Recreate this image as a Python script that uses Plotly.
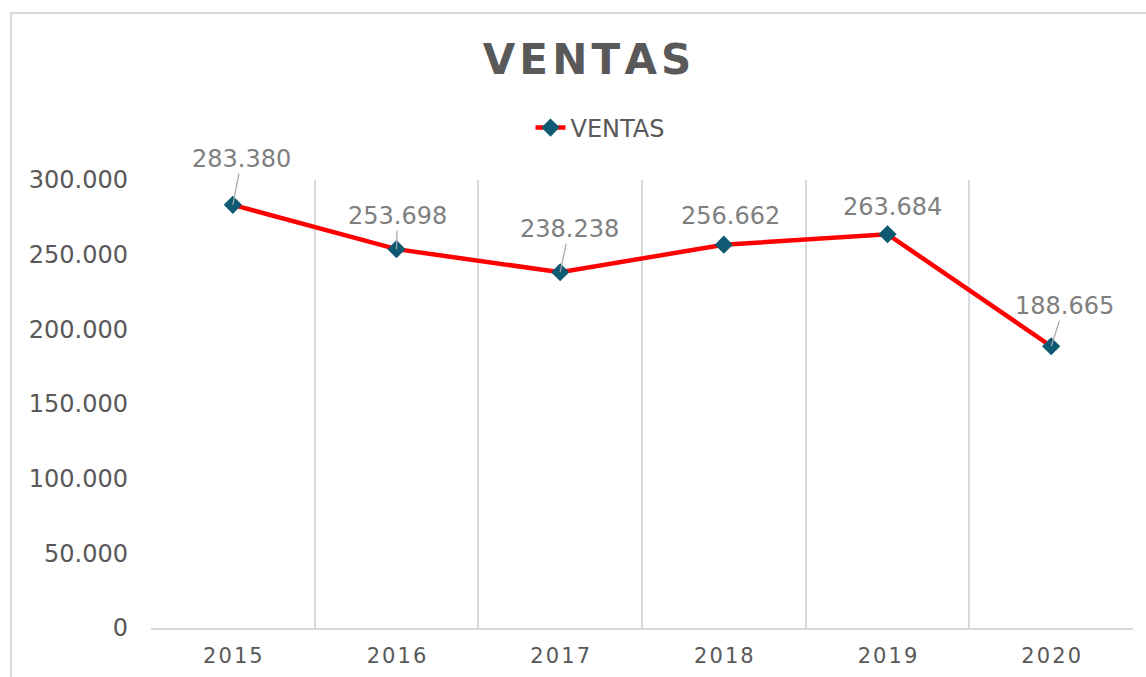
import plotly.graph_objects as go

years = ["2015", "2016", "2017", "2018", "2019", "2020"]
ventas = [283380, 253698, 238238, 256662, 263684, 188665]
y_ticks = [0, 50000, 100000, 150000, 200000, 250000, 300000]
# label offsets (pixels) for data labels
label_dx = [9, 1, 9, 7, 5, 13]
label_dy = [-46, -33, -43, -29, -27, -40]
leader = [True, True, True, False, False, True]

FONT = "DejaVu Sans"
HS = "\u200a"

def fmt(v):
    return f"{v:,}".replace(",", ".")

fig = go.Figure()
fig.add_trace(go.Scatter(
    x=years, y=ventas, mode="lines+markers", name="VENTAS",
    line=dict(color="#ff0000", width=4.5),
    marker=dict(symbol="diamond", size=14, color="#0f5a72"),
))

for i, (v, dx, dy, ld) in enumerate(zip(ventas, label_dx, label_dy, leader)):
    fig.add_annotation(
        x=i, y=v, text=fmt(v), showarrow=True, arrowhead=0,
        arrowwidth=1.2, arrowcolor="#a6a6a6" if ld else "rgba(0,0,0,0)",
        ax=dx, ay=dy, standoff=0, borderpad=0,
        font=dict(family=FONT, size=24, color="#7f7f7f"),
    )

fig.add_shape(type="rect", xref="paper", yref="paper",
              x0=-0.1426, x1=1.03, y0=-0.16, y1=1.3728,
              line=dict(color="#d9d9d9", width=2), fillcolor="rgba(0,0,0,0)",
              layer="below")

fig.update_layout(
    width=1146, height=677,
    margin=dict(l=151, r=13, t=180, b=49),
    paper_bgcolor="white", plot_bgcolor="white",
    separators=",.",
    title=dict(text=HS.join("VENTAS"), x=587/1146, xanchor="center",
               y=1-59/677, yanchor="middle", yref="container", xref="container",
               font=dict(family=FONT, size=42, color="#595959", weight="bold")),
    showlegend=True,
    legend=dict(orientation="h", x=600/1146, xanchor="center", xref="container",
                y=1-128/677, yanchor="middle", yref="container",
                font=dict(family=FONT, size=24, color="#595959"),
                bgcolor="rgba(0,0,0,0)"),
    xaxis=dict(type="category", range=[-0.5, 5.5], tickson="boundaries",
               showgrid=True, gridcolor="#d9d9d9", gridwidth=1.5,
               showline=True, linecolor="#d9d9d9", linewidth=1.5,
               ticks="", tickvals=years, ticktext=[HS.join(y) for y in years],
               tickfont=dict(family=FONT, size=21, color="#595959"),
               ticklabelstandoff=8, zeroline=False, automargin=False),
    yaxis=dict(range=[0, 300000], tickvals=y_ticks, tickformat=",d",
               showgrid=False, zeroline=False, showline=False, ticks="",
               tickfont=dict(family=FONT, size=24, color="#595959"),
               ticklabelstandoff=22, automargin=False),
)

fig.write_html("out.html", config={"displayModeBar": False},
               post_script="document.body.style.margin='0';")
